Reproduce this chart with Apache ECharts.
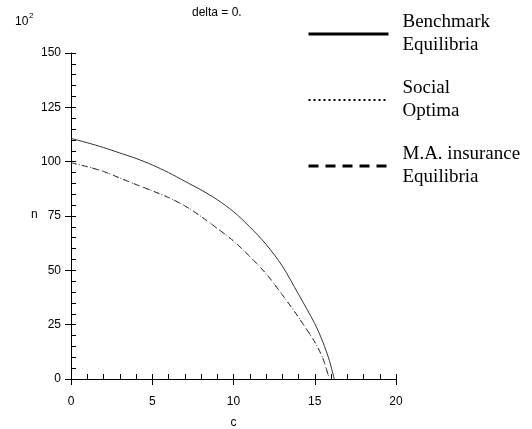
<!DOCTYPE html>
<html>
<head>
<meta charset="utf-8">
<script src="https://cdn.jsdelivr.net/npm/echarts@6/dist/echarts.min.js"></script>
<style>html,body{margin:0;padding:0;background:#fff;}#c{width:532px;height:429px;}</style>
</head>
<body>
<div id="c"></div>
<script>
// Benchmark Equilibria (solid)
var benchC = [0, 1, 2, 3, 4, 5, 6, 7, 8, 9, 10, 11, 12, 13, 14, 15, 15.5, 15.9, 16.2];
var benchN = [110.7, 108.7, 106.5, 104, 101.5, 98.5, 95, 91, 87, 82.5, 77, 70, 62, 52, 39, 25.5, 17, 8.5, 0];
// Social Optima (dotted) and M.A. insurance Equilibria (dashed)
var optC = [0, 1, 2, 3, 4, 5, 6, 7, 8, 9, 10, 11, 12, 13, 14, 15, 15.5, 15.9];
var optN = [99.5, 97.7, 95.5, 92.5, 89.5, 86.6, 83.5, 79.7, 74.8, 69.3, 63.5, 56.4, 48.5, 38.8, 28.4, 17, 9.5, 0];
var maC = optC;
var maN = optN;
var xTicks = [0, 5, 10, 15, 20];
var yTicks = [0, 25, 50, 75, 100, 125, 150];
var names = ['Benchmark\nEquilibria', 'Social\nOptima', 'M.A. insurance\nEquilibria'];

function pairs(xs, ys) { return xs.map(function (x, i) { return [x, ys[i]]; }); }

var chart = echarts.init(document.getElementById('c'));
var labelFont = { fontFamily: 'Liberation Sans, Arial, sans-serif', fontSize: 12, color: '#000' };
var hidden = { opacity: 0, borderWidth: 0 };
chart.setOption({
  animation: false,
  grid: { left: 71, right: 136, top: 53, bottom: 50, containLabel: false, outerBoundsMode: 'none' },
  xAxis: [{
    type: 'value', min: xTicks[0], max: xTicks[xTicks.length - 1], interval: 5,
    axisLine: { lineStyle: { color: '#000', width: 1 } },
    axisTick: { show: true, inside: false, length: 6, lineStyle: { color: '#000' } },
    axisLabel: Object.assign({ margin: 17 }, labelFont),
    splitLine: { show: false },
    name: 'c', nameLocation: 'middle', nameGap: 38,
    nameTextStyle: labelFont
  }, {
    type: 'value', min: 0, max: 20, interval: 1, position: 'bottom', gridIndex: 0,
    axisLine: { show: false },
    axisTick: { show: true, inside: true, length: 5, lineStyle: { color: '#000' } },
    axisLabel: { show: false }, splitLine: { show: false }
  }],
  yAxis: [{
    type: 'value', min: yTicks[0], max: yTicks[yTicks.length - 1], interval: 25,
    axisLine: { show: true, lineStyle: { color: '#000', width: 1 } },
    axisTick: { show: true, inside: false, length: 6, lineStyle: { color: '#000' } },
    axisLabel: Object.assign({ margin: 10 }, labelFont),
    splitLine: { show: false }
  }, {
    type: 'value', min: 0, max: 150, interval: 5, position: 'left', offset: 0,
    axisLine: { show: false },
    axisTick: { show: true, inside: true, length: 5, lineStyle: { color: '#000' } },
    axisLabel: { show: false }, splitLine: { show: false }
  }],
  legend: {
    orient: 'vertical', left: 307, top: 11, padding: 0, itemWidth: 80, itemHeight: 14, itemGap: 20,
    textStyle: { fontFamily: 'Liberation Serif, Times New Roman, serif', fontSize: 19, lineHeight: 23, color: '#000', padding: [0, 0, 0, 9] },
    data: [
      { name: names[0], itemStyle: hidden, lineStyle: { width: 3, color: '#000', type: 'solid' } },
      { name: names[1], itemStyle: hidden, lineStyle: { width: 2, color: '#000', type: [2, 3] } },
      { name: names[2], itemStyle: hidden, lineStyle: { width: 3, color: '#000', type: [10, 7] } }
    ]
  },
  graphic: [
    { type: 'text', left: 15, top: 16, style: { text: '10', font: '12px Liberation Sans, Arial, sans-serif', fill: '#000' } },
    { type: 'text', left: 29, top: 12, style: { text: '2', font: '8px Liberation Sans, Arial, sans-serif', fill: '#000' } },
    { type: 'text', left: 192, top: 7, style: { text: 'delta = 0.', font: '12px Liberation Sans, Arial, sans-serif', fill: '#000' } },
    { type: 'text', left: 31, top: 209, style: { text: 'n', font: '12px Liberation Sans, Arial, sans-serif', fill: '#000' } }
  ],
  series: [{
    name: names[0], type: 'line', data: pairs(benchC, benchN), showSymbol: false, symbol: 'none', smooth: 0.3,
    lineStyle: { color: '#333', width: 1, type: 'solid' }, z: 3
  }, {
    name: names[1], type: 'line', data: pairs(optC, optN), showSymbol: false, symbol: 'none', smooth: 0.3,
    lineStyle: { color: '#333', width: 1, type: [1, 3] }, z: 3
  }, {
    name: names[2], type: 'line', data: pairs(maC, maN), showSymbol: false, symbol: 'none', smooth: 0.3,
    lineStyle: { color: '#333', width: 1, type: [6, 5] }, z: 3
  }]
});
</script>
</body>
</html>
